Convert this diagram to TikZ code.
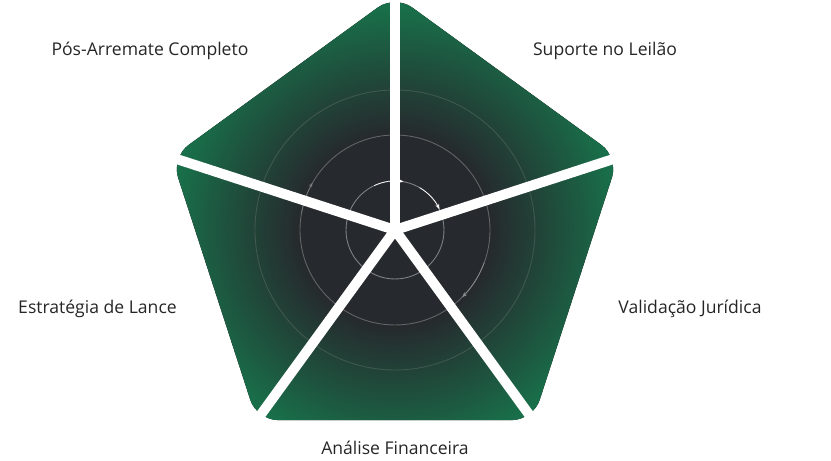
\documentclass[tikz,border=0pt]{standalone}
\usepackage{fontspec}
\setmainfont{Open Sans}
\usetikzlibrary{arrows.meta,calc}
\definecolor{hubdark}{HTML}{26292D}
\definecolor{hubgreen}{HTML}{17774D}
\definecolor{ringgray}{HTML}{8A8D90}
\pgfdeclareradialshading{hubshade}{\pgfpoint{0bp}{0bp}}{color(0bp)=(hubdark); color(10bp)=(hubdark); color(25bp)=(hubgreen); color(50bp)=(hubgreen)}
\tikzset{
  lbl/.style={font=\fontsize{10}{12}\selectfont, text=black!85},
  ring/.style={draw=ringgray, line width=0.5pt},
  gap/.style={draw=white, line width=0.2cm, line cap=round}
}
\begin{document}
\begin{tikzpicture}
\useasboundingbox (0,0) rectangle (16.62,9.22);
% centre and corners
\coordinate (C) at (7.9,4.62);
\foreach \a/\n in {90/top,162/left,234/botleft,306/botright,18/right}
  \coordinate (\n) at ($(C)+(\a:4.7)$);
\begin{scope}
  \clip[rounded corners=12pt] (top) -- (left) -- (botleft) -- (botright) -- (right) -- cycle;
  \fill[shading=hubshade] (C) circle (4.75);
\end{scope}
% rings
\draw[ring, opacity=0.9] (C) circle (0.98);
\draw[ring, opacity=0.6] (C) circle (1.9);
\draw[ring, opacity=0.3] (C) circle (2.8);
\draw[white, -{Stealth[length=3pt]}] ($(C)+(115:0.98)$) arc (115:80:0.98);
\draw[white, -{Stealth[length=3pt]}] ($(C)+(60:0.98)$) arc (60:25:0.98);
\draw[ringgray, -{Stealth[length=3pt]}] ($(C)+(-20:1.9)$) arc (-20:-45:1.9);
\draw[ringgray, opacity=0.5, -{Stealth[length=3pt]}] ($(C)+(170:1.9)$) arc (170:150:1.9);
% gaps
\foreach \n in {top,left,botleft,botright,right}
  \draw[gap] (C) -- (\n);
% labels
\node[lbl] (pos) at (3.0,8.2) {Pós-Arremate Completo};
\node[lbl] (sup) at (12.1,8.2) {Suporte no Leilão};
\node[lbl] (val) at (13.8,3.05) {Validação Jurídica};
\node[lbl] (ana) at (7.9,0.26) {Análise Financeira};
\node[lbl] (est) at (1.95,3.05) {Estratégia de Lance};
\end{tikzpicture}
\end{document}
